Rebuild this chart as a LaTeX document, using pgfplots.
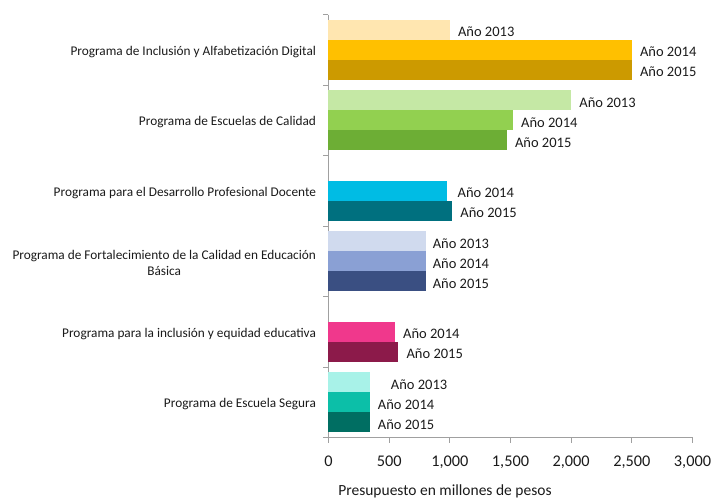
\documentclass[border=0pt]{standalone}
\usepackage{pgfplots}
\pgfplotsset{compat=1.18}
\usepackage{fontspec}
\setmainfont{Carlito}
\definecolor{a1}{HTML}{FFE6B0}\definecolor{a2}{HTML}{FFC000}\definecolor{a3}{HTML}{CC9A00}
\definecolor{b1}{HTML}{C5E8A5}\definecolor{b2}{HTML}{92D050}\definecolor{b3}{HTML}{6DAE35}
\definecolor{c2}{HTML}{00BCE4}\definecolor{c3}{HTML}{00707F}
\definecolor{d1}{HTML}{D0DAEE}\definecolor{d2}{HTML}{8AA0D4}\definecolor{d3}{HTML}{3A4F82}
\definecolor{e2}{HTML}{F0388C}\definecolor{e3}{HTML}{8C1A4A}
\definecolor{f1}{HTML}{A8F2E8}\definecolor{f2}{HTML}{0CBFA8}\definecolor{f3}{HTML}{006E62}
\definecolor{axgray}{HTML}{A0A0A0}
\definecolor{txt}{HTML}{1A1A1A}
\pgfplotsset{
  mybar/.style n args={3}{xbar, bar shift=0pt, bar width=0.284, fill=#1, draw=none,
    nodes near coords={Año #2},
    every node near coord/.append style={anchor=west, inner sep=0pt, xshift=#3, yshift=-2pt, font=\fontsize{14.5}{16}\selectfont, text=txt}},
}
\begin{document}
\begin{tikzpicture}
\path[use as bounding box] (-328.5pt,-61pt) rectangle (385.5pt,437.5pt);
\begin{axis}[
  scale only axis, width=364pt, height=423pt,
  xmin=0, xmax=3000, ymin=-0.5, ymax=5.5, y dir=reverse,
  axis x line*=bottom, axis y line*=left,
  axis line style={axgray, line width=0.8pt},
  xtick={0,500,...,3000},
  /pgf/number format/1000 sep={,},
  /pgf/number format/assume math mode=true,
  xticklabel style={font=\fontsize{16.3}{18}\selectfont, text=txt, yshift=-10pt},
  tick align=outside,
  x tick style={axgray, line width=0.8pt},
  major tick length=5pt,
  ytick={0,...,5},
  y tick style={draw=none},
  yticklabels={Programa de Inclusión y Alfabetización Digital,
    Programa de Escuelas de Calidad,
    Programa para el Desarrollo Profesional Docente,
    {Programa de Fortalecimiento de la Calidad en Educación\\Básica},
    Programa para la inclusión y equidad educativa,
    Programa de Escuela Segura},
  yticklabel style={align=center, anchor=east, font=\fontsize{13.3}{16}\selectfont, text=txt, xshift=-4pt, yshift=-2pt},
  extra y ticks={-0.5,0.5,1.5,2.5,3.5,4.5,5.5},
  extra y tick labels={},
  extra y tick style={y tick style={draw=axgray, line width=0.8pt}, major tick length=5pt},
  xlabel={Presupuesto en millones de pesos},
  xlabel style={font=\fontsize{15.5}{17}\selectfont, text=txt, at={(axis description cs:0.32,0)}, anchor=base, yshift=-58pt},
  clip=false,
]
\addplot[mybar={a1}{2013}{8pt}] coordinates {(1000,-0.284)};
\addplot[mybar={a2}{2014}{8pt}] coordinates {(2500,0)};
\addplot[mybar={a3}{2015}{8pt}] coordinates {(2500,0.284)};
\addplot[mybar={b1}{2013}{8pt}] coordinates {(2000,0.716)};
\addplot[mybar={b2}{2014}{8pt}] coordinates {(1520,1)};
\addplot[mybar={b3}{2015}{8pt}] coordinates {(1470,1.284)};
\addplot[mybar={c2}{2014}{10pt}] coordinates {(980,2)};
\addplot[mybar={c3}{2015}{8pt}] coordinates {(1020,2.284)};
\addplot[mybar={d1}{2013}{7pt}] coordinates {(800,2.716)};
\addplot[mybar={d2}{2014}{7pt}] coordinates {(800,3)};
\addplot[mybar={d3}{2015}{7pt}] coordinates {(800,3.284)};
\addplot[mybar={e2}{2014}{8pt}] coordinates {(548,4)};
\addplot[mybar={e3}{2015}{8pt}] coordinates {(576,4.284)};
\addplot[mybar={f1}{2013}{21pt}] coordinates {(340,4.716)};
\addplot[mybar={f2}{2014}{8pt}] coordinates {(340,5)};
\addplot[mybar={f3}{2015}{8pt}] coordinates {(340,5.284)};
\end{axis}
\end{tikzpicture}
\end{document}
